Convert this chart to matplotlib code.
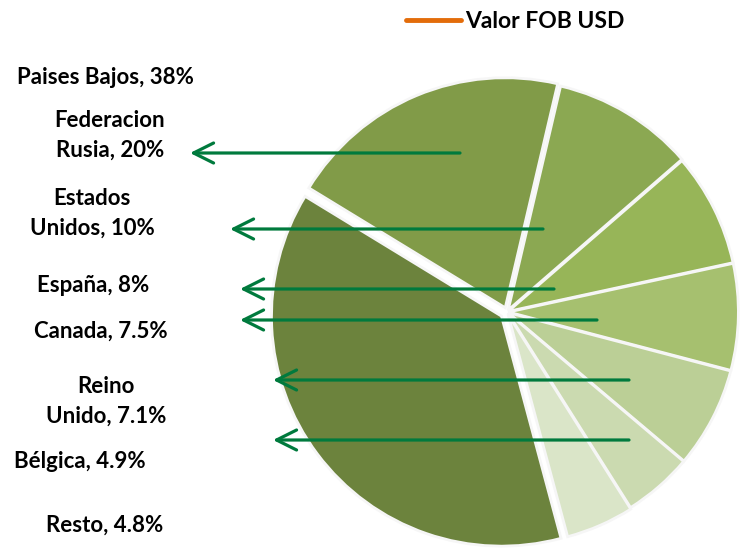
import matplotlib
matplotlib.use("Agg")
import matplotlib.pyplot as plt
from matplotlib.lines import Line2D

# ---- data ----
countries = ["Paises Bajos", "Federacion Rusia", "Estados Unidos", "España",
             "Canada", "Reino Unido", "Bélgica", "Resto"]
shares = [38, 20, 10, 8, 7.5, 7.1, 4.9, 4.8]
label_texts = ["Paises Bajos, 38%", "Federacion\nRusia, 20%", "Estados\nUnidos, 10%",
               "España, 8%", "Canada, 7.5%", "Reino\nUnido, 7.1%",
               "Bélgica, 4.9%", "Resto, 4.8%"]
series_name = "Valor FOB USD"

# ---- styles / layout ----
colors = ["#6c833d", "#819b48", "#8ba852", "#97b558", "#a6c06f",
          "#bbcf96", "#cbdab0", "#dae5c8"]
explode_frac = [0.03, 0.02, 0.01, 0.006, 0.006, 0.006, 0.006, 0.012]
W, H = 750, 548
RADIUS = 230
# label centre positions in pixels (x, y from top)
label_pos = [(105, 78), (110, 135), (92, 213), (93, 285), (101, 331),
             (106, 401), (80, 462), (105, 525)]
# arrows for labels 1..6: (y, tail x, head x) in pixels
arrows = [(153, 460, 190), (229, 543, 230), (289, 554, 240),
          (320, 597, 240), (380, 629, 273), (440, 629, 273)]
arrow_color = "#007a3d"

plt.rcParams["font.family"] = ["Lato", "DejaVu Sans"]

fig = plt.figure(figsize=(W / 100, H / 100), dpi=100)
ax = fig.add_axes([0, 0, 1, 1])

ax.pie(shares, colors=colors, startangle=-75, counterclock=False,
       center=(507, H - 312), radius=RADIUS,
       explode=[e * RADIUS for e in explode_frac],
       wedgeprops=dict(edgecolor="#f6f6f6", linewidth=2.0))

ax.set_xlim(0, W)
ax.set_ylim(0, H)
ax.set_aspect("auto")
ax.axis("off")

for txt, (x, y) in zip(label_texts, label_pos):
    ax.text(x, H - y, txt, ha="center", va="center", fontsize=16,
            fontweight="bold", color="black", linespacing=1.5)

for (y, x0, x1) in arrows:
    ax.annotate("", xy=(x1, H - y), xytext=(x0, H - y),
                arrowprops=dict(arrowstyle="->,head_length=0.72,head_width=0.36",
                                color=arrow_color, lw=2.3, mutation_scale=20,
                                shrinkA=0, shrinkB=0))

# legend
ax.add_line(Line2D([406, 461], [H - 20, H - 20], color="#e36c0a", lw=3.5,
                   solid_capstyle="round"))
ax.text(465, H - 21, series_name, ha="left", va="center", fontsize=16.5,
        fontweight="bold", color="black")

fig.savefig("out.png", dpi=100)
